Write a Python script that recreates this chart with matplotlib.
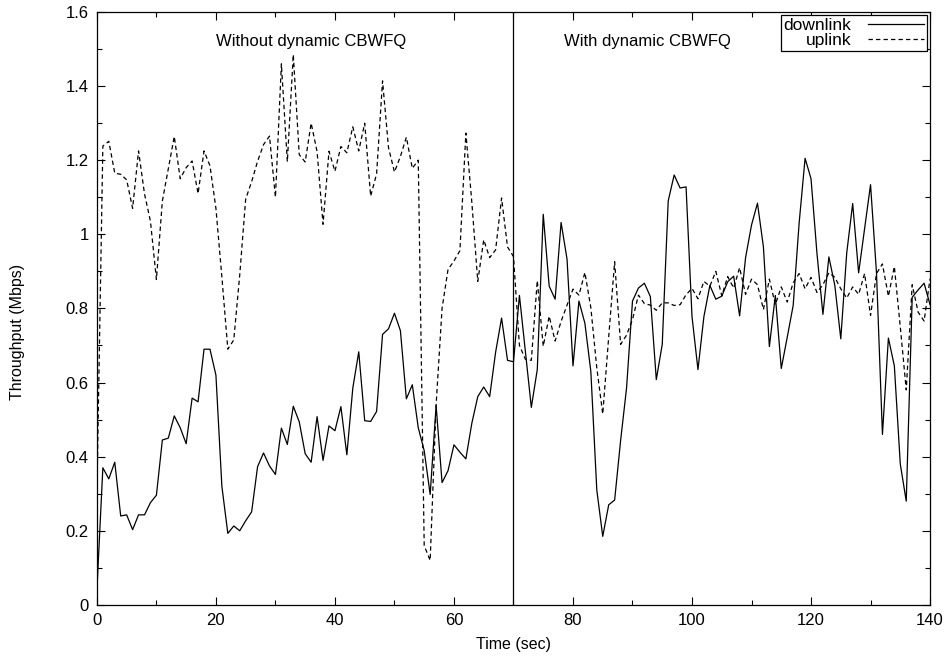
import matplotlib
matplotlib.use("Agg")
import matplotlib.pyplot as plt
from matplotlib.ticker import MultipleLocator, FuncFormatter
import numpy as np

plt.rcParams['font.family'] = ['Liberation Sans', 'DejaVu Sans']

# throughput samples, one per second (0..140 s)
time_sec = np.arange(0, 141)

downlink = [
    0.04, 0.37, 0.34, 0.385, 0.24, 0.243, 0.203, 0.243, 0.243, 0.276,
    0.296, 0.445, 0.45, 0.51, 0.478, 0.435, 0.558, 0.548, 0.69, 0.69,
    0.62, 0.32, 0.193, 0.213, 0.2, 0.227, 0.251, 0.373, 0.41, 0.375,
    0.352, 0.477, 0.433, 0.536, 0.494, 0.408, 0.385, 0.508, 0.39, 0.483,
    0.47, 0.535, 0.405, 0.585, 0.683, 0.497, 0.495, 0.522, 0.73, 0.745,
    0.787, 0.74, 0.556, 0.594, 0.478, 0.416, 0.298, 0.538, 0.33, 0.362,
    0.432, 0.412, 0.394, 0.49, 0.562, 0.588, 0.562, 0.682, 0.774, 0.66,
    0.656, 0.835, 0.685, 0.533, 0.635, 1.054, 0.86, 0.825, 1.032, 0.933,
    0.645, 0.82, 0.76, 0.63, 0.31, 0.185, 0.27, 0.283, 0.443, 0.585,
    0.82, 0.855, 0.868, 0.832, 0.608, 0.703, 1.09, 1.16, 1.125, 1.128,
    0.778, 0.635, 0.778, 0.862, 0.825, 0.833, 0.872, 0.887, 0.78, 0.937,
    1.025, 1.084, 0.966, 0.697, 0.835, 0.638, 0.722, 0.808, 1.03, 1.205,
    1.15, 0.948, 0.784, 0.939, 0.862, 0.718, 0.95, 1.083, 0.896, 1.014,
    1.134, 0.896, 0.46, 0.72, 0.645, 0.38, 0.28, 0.83, 0.85, 0.868,
    0.81,
]

uplink = [
    0.3, 1.238, 1.251, 1.165, 1.162, 1.147, 1.07, 1.225, 1.109, 1.035,
    0.878, 1.09, 1.177, 1.264, 1.15, 1.18, 1.198, 1.11, 1.225, 1.185,
    1.07, 0.885, 0.69, 0.715, 0.89, 1.095, 1.142, 1.197, 1.242, 1.265,
    1.1, 1.46, 1.196, 1.485, 1.215, 1.195, 1.3, 1.223, 1.027, 1.224,
    1.17, 1.237, 1.22, 1.29, 1.225, 1.3, 1.103, 1.163, 1.414, 1.234,
    1.168, 1.21, 1.262, 1.178, 1.2, 0.16, 0.12, 0.54, 0.8, 0.905,
    0.928, 0.956, 1.273, 1.087, 0.873, 0.985, 0.937, 0.958, 1.098, 0.966,
    0.94, 0.7, 0.663, 0.66, 0.875, 0.698, 0.779, 0.712, 0.765, 0.809,
    0.852, 0.836, 0.897, 0.802, 0.64, 0.515, 0.723, 0.926, 0.703, 0.728,
    0.77, 0.836, 0.813, 0.809, 0.795, 0.815, 0.815, 0.808, 0.81, 0.837,
    0.854, 0.826, 0.873, 0.86, 0.9, 0.834, 0.886, 0.855, 0.91, 0.838,
    0.879, 0.864, 0.797, 0.879, 0.81, 0.858, 0.817, 0.869, 0.894, 0.853,
    0.884, 0.843, 0.864, 0.896, 0.884, 0.853, 0.828, 0.858, 0.838, 0.894,
    0.781, 0.894, 0.92, 0.833, 0.913, 0.75, 0.58, 0.864, 0.79, 0.766,
    0.88,
]

switch_time = 70
phase_labels = ["Without dynamic CBWFQ", "With dynamic CBWFQ"]
phase_label_x = [36, 92.5]

fig = plt.figure(figsize=(9.5, 6.64), dpi=100)
ax = fig.add_axes([0.102, 0.089, 0.877, 0.893])

ax.plot(time_sec, downlink, color='black', lw=0.9, label='downlink')
ax.plot(time_sec, uplink, color='black', lw=0.9, dashes=(3.5, 2.5), label='uplink')
ax.axvline(switch_time, color='black', lw=0.9)

for lbl, xpos in zip(phase_labels, phase_label_x):
    ax.text(xpos, 1.52, lbl, ha='center', va='center', fontsize=12)

ax.set_xlim(0, 140)
ax.set_ylim(0, 1.6)
ax.xaxis.set_major_locator(MultipleLocator(20))
ax.xaxis.set_minor_locator(MultipleLocator(10))
ax.yaxis.set_major_locator(MultipleLocator(0.2))
ax.yaxis.set_minor_locator(MultipleLocator(0.1))
ax.yaxis.set_major_formatter(FuncFormatter(lambda v, p: '%g' % round(v, 2)))
ax.tick_params(which='both', direction='in', top=True, right=True,
               labelsize=12, width=0.8)
ax.tick_params(which='major', length=6, pad=6)
ax.tick_params(which='minor', length=3.5)
for s in ax.spines.values():
    s.set_linewidth(0.9)

ax.set_xlabel('Time (sec)', fontsize=11.5, labelpad=6)
ax.set_ylabel('Throughput (Mbps)', fontsize=11.5)
ax.yaxis.set_label_coords(-0.086, 0.46)

# gnuplot-style key: text right-aligned, line sample on the right
leg = ax.legend(loc='upper right', markerfirst=False, fontsize=12.5,
                handlelength=3.2, fancybox=False, framealpha=1,
                edgecolor='black', borderaxespad=0.2, borderpad=0.15,
                labelspacing=0.0, handletextpad=1.0)
leg.get_frame().set_linewidth(0.9)

fig.savefig('out.png', dpi=100)
